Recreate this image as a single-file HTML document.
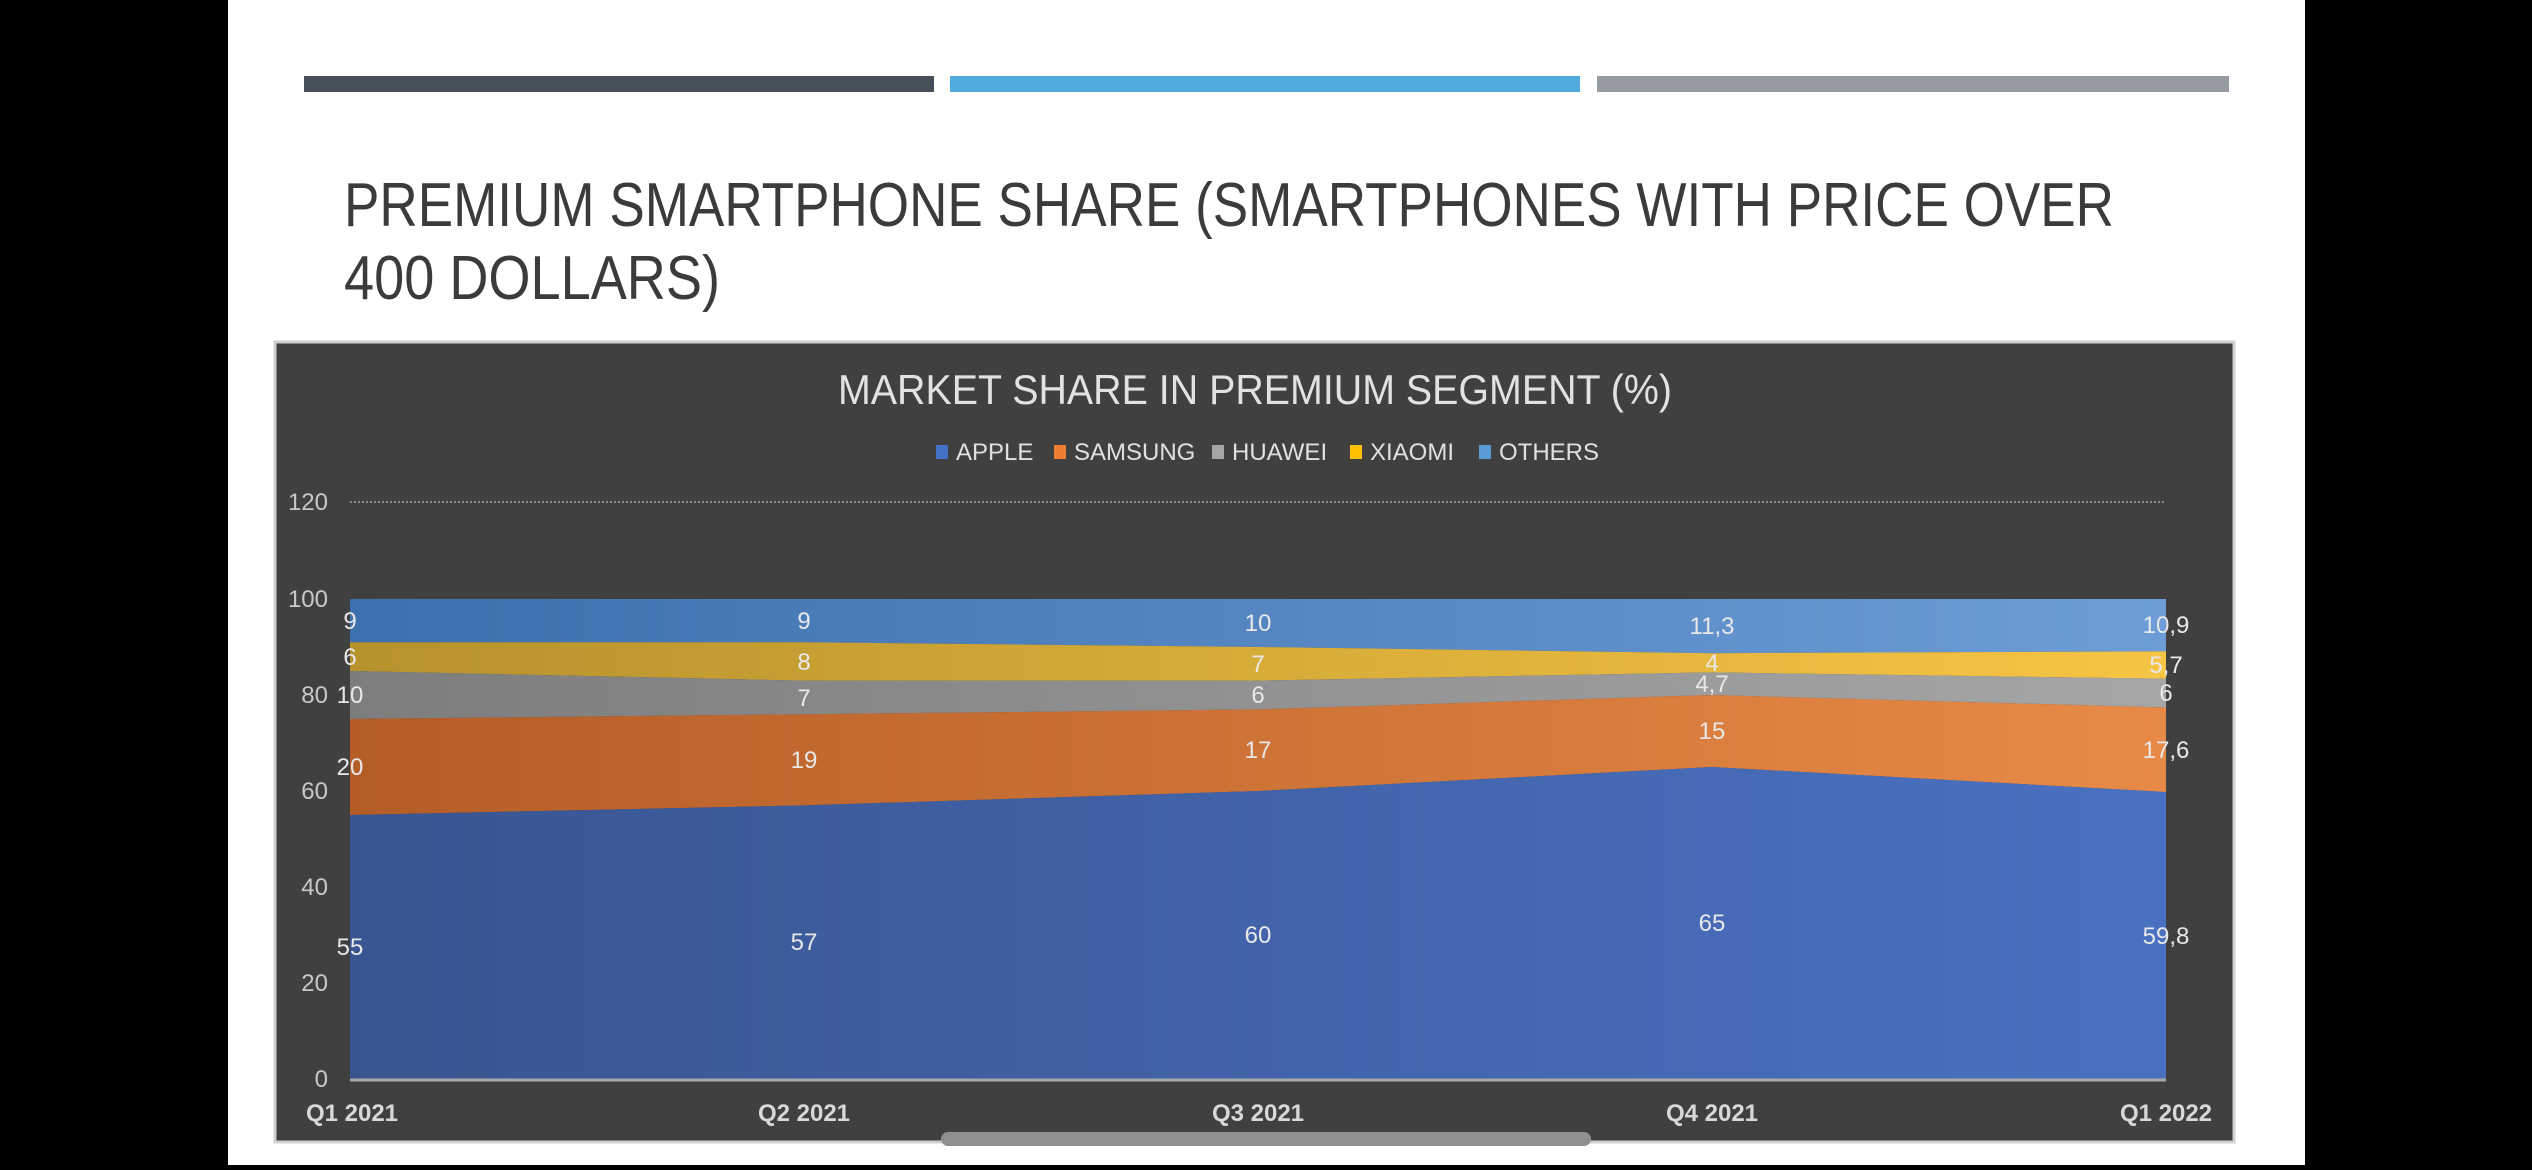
<!DOCTYPE html>
<html><head><meta charset="utf-8"><style>
html,body{margin:0;padding:0;background:#000;}
svg{display:block;}
</style></head><body>
<svg width="2532" height="1170" viewBox="0 0 2532 1170" xmlns="http://www.w3.org/2000/svg" font-family="Liberation Sans, sans-serif">
<defs>
<linearGradient id="ga" x1="0" x2="1"><stop offset="0" stop-color="#395591"/><stop offset="1" stop-color="#4a71c1"/></linearGradient>
<linearGradient id="gs" x1="0" x2="1"><stop offset="0" stop-color="#b45d27"/><stop offset="1" stop-color="#e88a47"/></linearGradient>
<linearGradient id="gh" x1="0" x2="1"><stop offset="0" stop-color="#7d7d7d"/><stop offset="1" stop-color="#a6a6a6"/></linearGradient>
<linearGradient id="gx" x1="0" x2="1"><stop offset="0" stop-color="#b6922d"/><stop offset="1" stop-color="#f7c544"/></linearGradient>
<linearGradient id="go" x1="0" x2="1"><stop offset="0" stop-color="#3c70ae"/><stop offset="1" stop-color="#6d9cd6"/></linearGradient>
</defs>
<rect x="0" y="0" width="2532" height="1170" fill="#000"/>
<rect x="228" y="0" width="2077" height="1165" fill="#fff"/>
<rect x="304" y="76" width="630" height="16" fill="#46505a"/>
<rect x="950" y="76" width="630" height="16" fill="#52a9dd"/>
<rect x="1597" y="76" width="632" height="16" fill="#969ba3"/>
<text x="344" y="226" font-size="62" fill="#3b3b3b" textLength="1770" lengthAdjust="spacingAndGlyphs">PREMIUM SMARTPHONE SHARE (SMARTPHONES WITH PRICE OVER</text>
<text x="344" y="299" font-size="62" fill="#3b3b3b" textLength="376" lengthAdjust="spacingAndGlyphs">400 DOLLARS)</text>
<rect x="275" y="342" width="1959" height="800" fill="#404040" stroke="#d0d0d0" stroke-width="3"/>
<text x="1255" y="404" font-size="42" fill="#e2e2e2" text-anchor="middle" textLength="834" lengthAdjust="spacingAndGlyphs">MARKET SHARE IN PREMIUM SEGMENT (%)</text>
<g font-size="24" fill="#e0e0e0">
<rect x="936" y="445" width="12" height="14" fill="#4472c4"/><text x="956" y="460">APPLE</text>
<rect x="1054" y="445" width="12" height="14" fill="#ed7d31"/><text x="1074" y="460">SAMSUNG</text>
<rect x="1212" y="445" width="12" height="14" fill="#a5a5a5"/><text x="1232" y="460">HUAWEI</text>
<rect x="1350" y="445" width="12" height="14" fill="#ffc000"/><text x="1370" y="460">XIAOMI</text>
<rect x="1479" y="445" width="12" height="14" fill="#5b9bd5"/><text x="1499" y="460">OTHERS</text>
</g>
<line x1="350" y1="502" x2="2166" y2="502" stroke="#8a8a8a" stroke-width="2" stroke-dasharray="2,2"/>
<polygon fill="url(#go)" points="350,599 2166,599 2166,651.3 1712,653.2 1258,647 804,642.2 350,642.2"/>
<polygon fill="url(#gx)" points="350,642.2 804,642.2 1258,647 1712,653.2 2166,651.3 2166,678.7 1712,672.4 1258,680.6 804,680.6 350,671"/>
<polygon fill="url(#gh)" points="350,671 804,680.6 1258,680.6 1712,672.4 2166,678.7 2166,707.5 1712,695 1258,709.4 804,714.2 350,719"/>
<polygon fill="url(#gs)" points="350,719 804,714.2 1258,709.4 1712,695 2166,707.5 2166,792 1712,767 1258,791 804,805.4 350,815"/>
<polygon fill="url(#ga)" points="350,815 804,805.4 1258,791 1712,767 2166,792 2166,1079 350,1079"/>
<line x1="350" y1="1080" x2="2166" y2="1080" stroke="#a8a8a8" stroke-width="3"/>
<g font-size="24" fill="#c8c8c8" text-anchor="end">
<text x="328" y="510">120</text><text x="328" y="607">100</text><text x="328" y="703">80</text>
<text x="328" y="799">60</text><text x="328" y="895">40</text><text x="328" y="991">20</text><text x="328" y="1087">0</text>
</g>
<g font-size="24" fill="#e8e8e8" text-anchor="middle">
<text x="350" y="629">9</text><text x="804" y="629">9</text><text x="1258" y="631">10</text><text x="1712" y="634">11,3</text><text x="2166" y="633">10,9</text>
<text x="350" y="665">6</text><text x="804" y="670">8</text><text x="1258" y="672">7</text><text x="1712" y="671">4</text><text x="2166" y="673">5,7</text>
<text x="350" y="703">10</text><text x="804" y="706">7</text><text x="1258" y="703">6</text><text x="1712" y="692">4,7</text><text x="2166" y="701">6</text>
<text x="350" y="775">20</text><text x="804" y="768">19</text><text x="1258" y="758">17</text><text x="1712" y="739">15</text><text x="2166" y="758">17,6</text>
<text x="350" y="955">55</text><text x="804" y="950">57</text><text x="1258" y="943">60</text><text x="1712" y="931">65</text><text x="2166" y="944">59,8</text>
</g>
<g font-size="24" font-weight="bold" fill="#d8d8d8" text-anchor="middle">
<text x="352" y="1121">Q1 2021</text><text x="804" y="1121">Q2 2021</text><text x="1258" y="1121">Q3 2021</text><text x="1712" y="1121">Q4 2021</text><text x="2166" y="1121">Q1 2022</text>
</g>
<rect x="941" y="1132" width="650" height="14" rx="7" fill="#8f8f8f"/>
</svg>
</body></html>
